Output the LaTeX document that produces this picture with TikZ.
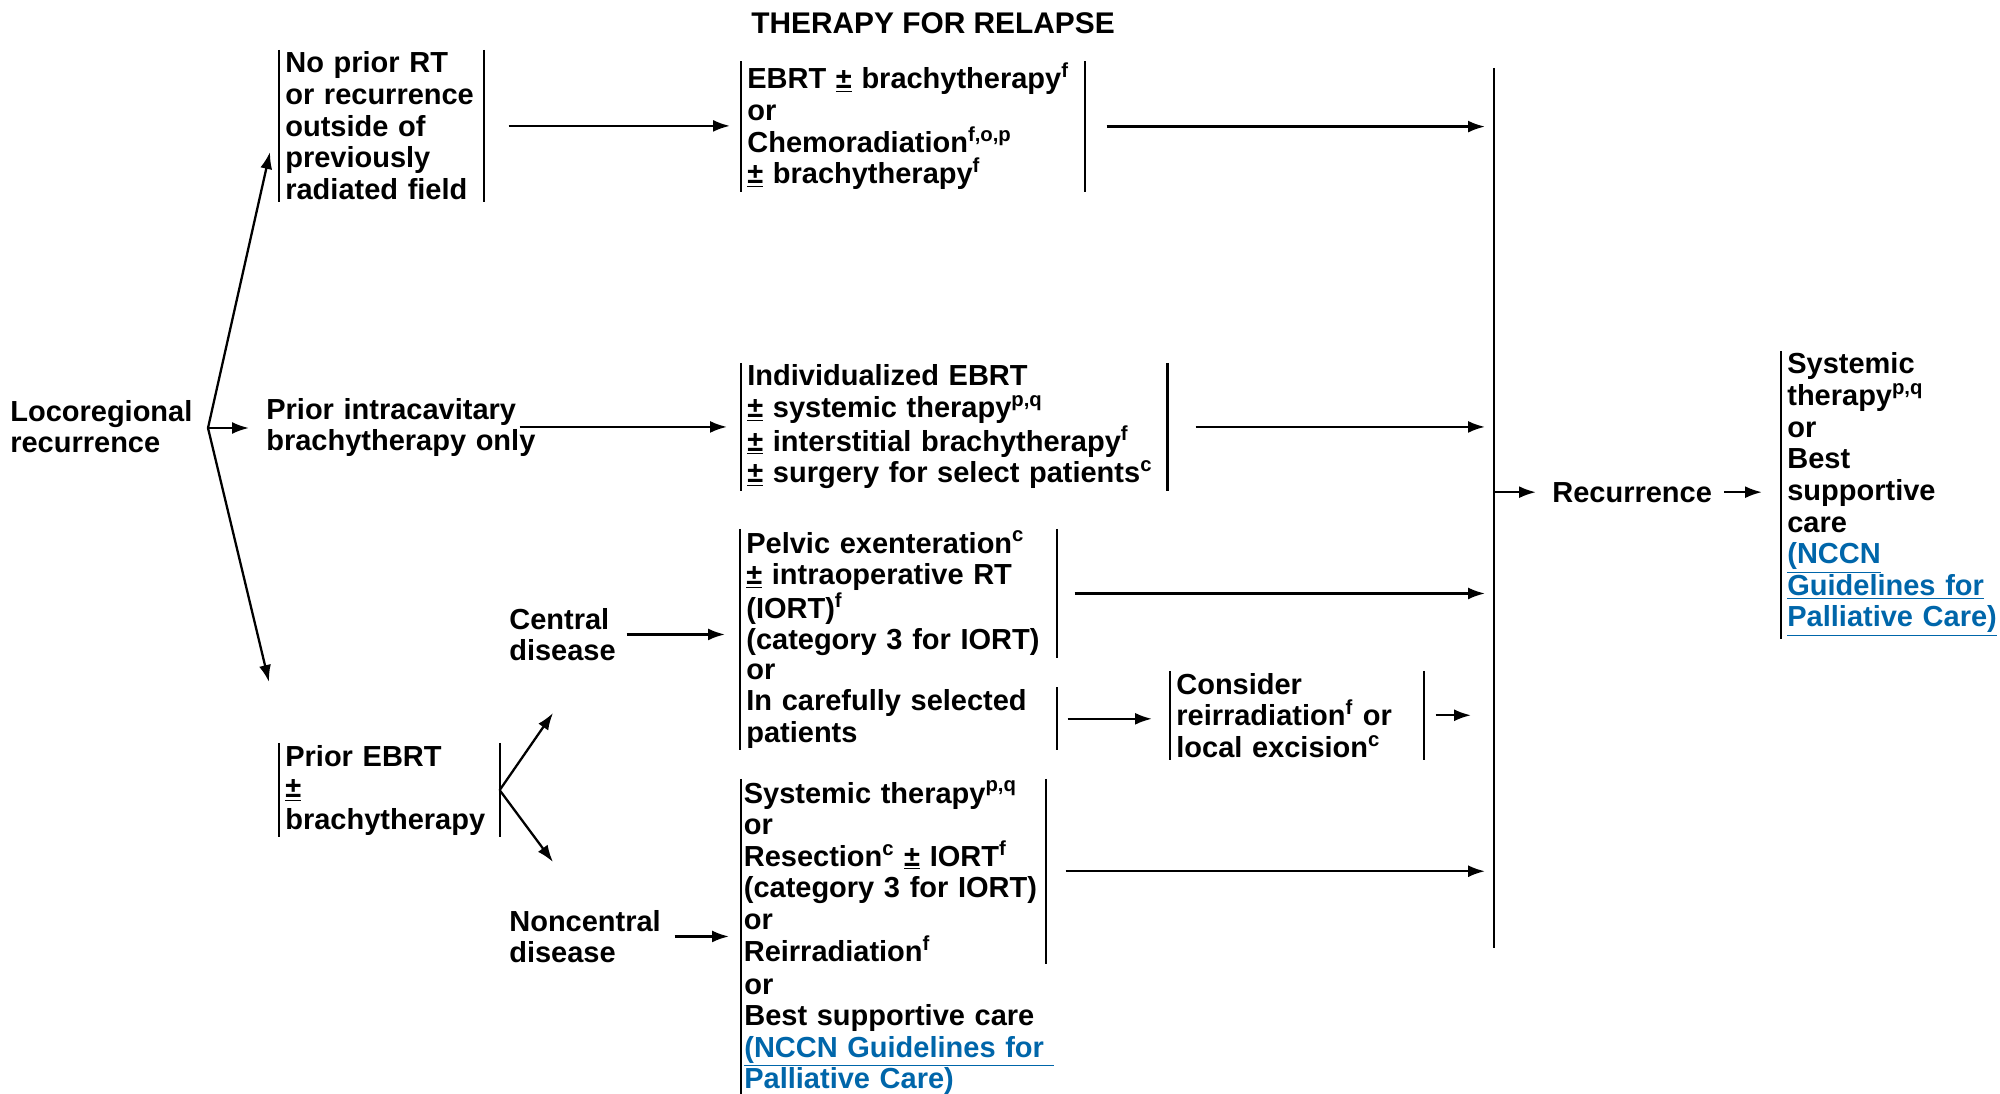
\documentclass[tikz,border=0pt]{standalone}
\usepackage{fontspec}
\setmainfont{Liberation Sans}
\usepackage{tikz}
\usetikzlibrary{arrows.meta,calc,positioning}
\definecolor{linkblue}{RGB}{0,102,170}
\newcommand{\pmu}{\underline{±}}
\newcommand{\sps}[1]{\textsuperscript{#1}}
\newcommand{\lnk}[1]{\textcolor{linkblue}{\underline{#1}}}

\begin{document}
\begin{tikzpicture}[x=0.02cm, y=-0.02cm,
    every node/.style={font=\fontsize{16.5}{18}\selectfont\bfseries, inner sep=0pt},
    txt/.style={align=left, anchor=base west},
    bx/.style={align=left, anchor=base west, inner xsep=0.12cm, inner ysep=1pt},
    bar/.style={line width=1.3pt},
    arr/.style={line width=1.3pt, -{Latex[length=0.34cm,width=0.24cm]}}]

	\fill[white] (0,0) rectangle (2000,1094);
	\useasboundingbox (0,0) rectangle (2000,1094);

	\node[anchor=base, font=\fontsize{17}{20}\selectfont\bfseries] (title) at (933,34) {THERAPY FOR RELAPSE};

	% left side
	\node[txt, text width=3.9cm] (loco) at (10,421) {Locoregional\\recurrence};
	\coordinate (fork) at (208,428);
	\coordinate (upend) at (270,152);
	\coordinate (downend) at (269,682);

	\node[bx, text width=3.84cm] (noprior) at (279,73) {No prior RT\\or recurrence\\outside of\\previously\\radiated field};
	\node[txt, text width=5.4cm] (intra) at (266,419) {Prior intracavitary\\brachytherapy only};
	\node[bx, text width=4.16cm] (priorebrt) at (279,766) {Prior EBRT\\\pmu\\brachytherapy};
	\coordinate (tipc) at (553,713);
	\coordinate (tipn) at (553,862);

	\node[txt, text width=2.2cm] (central) at (509,629) {Central\\disease};
	\node[txt, text width=3.1cm] (noncentral) at (509,931) {Noncentral\\disease};

	% therapy boxes
	\node[bx, text width=6.62cm] (ebrt) at (741,89) {EBRT \pmu{} brachytherapy\sps{f}\\or\\Chemoradiation\sps{f,o,p}\\\pmu{} brachytherapy\sps{f}};
	\node[bx, text width=8.28cm] (indiv) at (741,386) {Individualized EBRT\\\pmu{} systemic therapy\sps{p,q}\\\pmu{} interstitial brachytherapy\sps{f}\\\pmu{} surgery for select patients\sps{c}};
	\node[bx, text width=6.08cm] (pelvic) at (740,553) {Pelvic exenteration\sps{c}\\\pmu{} intraoperative RT\\(IORT)\sps{f}\\(category 3 for IORT)};
	\node[txt] (pelvor) at (746,679) {or};
	\node[bx, text width=6.08cm] (care) at (740,710.5) {In carefully selected\\patients};
	\node[bx, text width=4.82cm] (consider) at (1170,694) {Consider\\reirradiation\sps{f} or\\local excision\sps{c}};
	\node[bx, inner xsep=0.05cm, text width=5.98cm] (sys) at (741,803) {Systemic therapy\sps{p,q}\\or\\Resection\sps{c} \pmu{} IORT\sps{f}\\(category 3 for IORT)\\or\\Reirradiation\sps{f}};
	\node[txt, text width=6cm] (sysbsc) at (744,994) {or\\Best supportive care\\\lnk{(NCCN Guidelines for }\\\lnk{Palliative Care)}};

	% right side
	\coordinate (jtop) at (1494,68);
	\coordinate (jbot) at (1494,948);
	\node[anchor=base west] (recur) at (1552,502) {Recurrence};
	\node[bx, text width=4.18cm] (final) at (1781,374) {Systemic\\therapy\sps{p,q}\\or\\Best\\supportive\\care\\\lnk{(NCCN}\\\lnk{Guidelines for}\\\lnk{Palliative Care)}};

	% bars
	\foreach \n in {noprior,ebrt,indiv,pelvic,care,consider,priorebrt,sys}
		\draw[bar] (\n.north east) -- (\n.south east);
	\foreach \n in {noprior,ebrt,indiv,consider,priorebrt,final}
		\draw[bar] (\n.north west) -- (\n.south west);
	\draw[bar] (pelvic.north west) -- (care.south west);
	\draw[bar] (sys.north west) -- (sys.west |- sysbsc.south);
	\draw[line width=1.3pt] (jtop) -- (jbot);

	% arrows
	\draw[arr] (fork) -- (upend);
	\draw[arr] (fork) -- ([xshift=-0.34cm]fork -| intra.west);
	\draw[arr] (fork) -- (downend);
	\draw[arr] ([xshift=0.5cm]noprior.east) -- ([xshift=-0.22cm]noprior.east -| ebrt.west);
	\draw[arr] ([xshift=0.44cm]ebrt.east) -- ([xshift=-0.18cm]ebrt.east -| jtop);
	\draw[arr] ([xshift=-0.34cm]intra.east |- indiv.west) -- ([xshift=-0.28cm]indiv.west);
	\draw[arr] ([xshift=0.56cm]indiv.east) -- ([xshift=-0.18cm]indiv.east -| jtop);
	\draw[arr] ([xshift=0.14cm]central.east) -- ([xshift=-0.3cm]central.east -| pelvic.west);
	\draw[arr] ([xshift=0.36cm]pelvic.east) -- ([xshift=-0.18cm]pelvic.east -| jtop);
	\draw[arr] ([xshift=0.22cm]care.east) -- ([xshift=-0.36cm]care.east -| consider.west);
	\draw[arr] ([xshift=0.24cm]consider.east) -- ([xshift=-0.46cm]consider.east -| jtop);
	\draw[arr] (priorebrt.east) -- (tipc);
	\draw[arr] (priorebrt.east) -- (tipn);
	\draw[arr] ([xshift=0.2cm]noncentral.east) -- ([xshift=-0.24cm]noncentral.east -| sys.west);
	\draw[arr] ([xshift=0.4cm]sys.east) -- ([xshift=-0.18cm]sys.east -| jtop);
	\draw[arr] (recur.west -| jtop) -- ([xshift=-0.32cm]recur.west);
	\draw[arr] ([xshift=0.24cm]recur.east) -- ([xshift=-0.38cm]recur.east -| final.west);
\end{tikzpicture}
\end{document}
